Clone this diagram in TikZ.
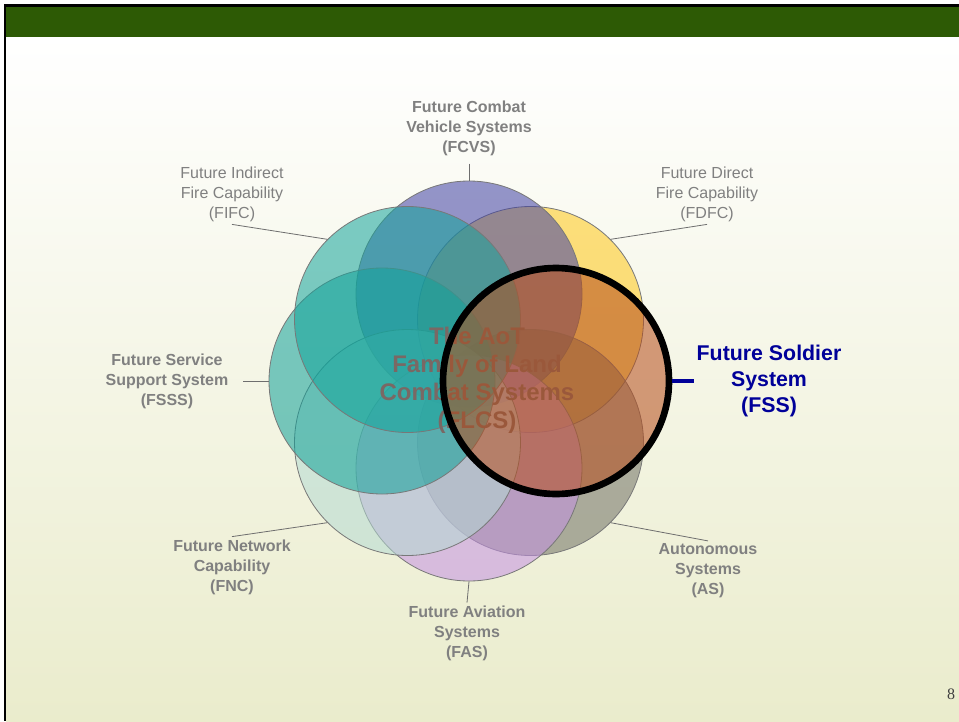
\documentclass[tikz,border=0pt]{standalone}
\usepackage{fontspec}
\setmainfont{Liberation Sans}
\newfontfamily\numfont{Liberation Serif}

\definecolor{barGreen}{RGB}{45,90,5}
\definecolor{bgCream}{RGB}{234,236,204}
\definecolor{lblGray}{RGB}{128,128,128}
\definecolor{lnGray}{RGB}{110,110,110}
\definecolor{bubEdge}{RGB}{120,120,120}
\definecolor{fssBlue}{RGB}{0,0,153}
\definecolor{coreText}{RGB}{122,104,100}
\definecolor{cFCVS}{RGB}{64,64,164}
\definecolor{cFIFC}{RGB}{19,164,155}
\definecolor{cFDFC}{RGB}{255,199,24}
\definecolor{cFSSS}{RGB}{15,160,152}
\definecolor{cFSS}{RGB}{182,76,26}
\definecolor{cAS}{RGB}{112,112,100}
\definecolor{cFAS}{RGB}{196,145,226}
\definecolor{cFNC}{RGB}{180,218,210}

\tikzset{
    bub/.style={circle, minimum size=169.5pt, inner sep=0pt, draw=bubEdge, line width=0.6pt, fill opacity=0.55},
    lbl/.style={text=lblGray, align=center, inner sep=2pt, font=\fontsize{12}{15}\selectfont\bfseries},
    lbllight/.style={lbl, font=\fontsize{12}{15}\selectfont},
    lnk/.style={draw=lnGray, line width=0.6pt}
}

\begin{document}
\begin{tikzpicture}[x=0.75pt, y=-0.75pt]

    \useasboundingbox (0,0) rectangle (959,721);

    % slide
    \fill[white] (0,0) rectangle (959,721);
    \shade[top color=white, bottom color=bgCream] (6,37) rectangle (959,721);
    \fill[barGreen] (6,7) rectangle (959,37);
    \fill[black] (4,4) rectangle (959,7);
    \fill[black] (4,4) rectangle (6,721);

    % circles
    \node[bub, fill=cFDFC] (fdfc) at (530.5,319.5) {};
    \node[bub, fill=cFCVS] (fcvs) at (469,294) {};
    \node[bub, fill=cAS] (as) at (530.5,442.5) {};
    \node[bub, fill=cFAS] (fas) at (469,468) {};
    \node[bub, fill=cFNC] (fnc) at (407.5,442.5) {};
    \node[bub, fill=cFSSS] (fsss) at (382,381) {};
    \node[bub, fill=cFIFC] (fifc) at (407.5,319.5) {};

    \node[text=coreText, align=center, font=\fontsize{18}{21}\selectfont\bfseries] (core) at (477,380)
        {The AoT\\Family of Land\\Combat Systems\\(FLCS)};

    \node[bub, fill=cFSS, draw=black, line width=5pt] (fss) at (556,381) {};

    % labels
    \node[lbl] (fcvslbl) at (469,128) {Future Combat\\Vehicle Systems\\(FCVS)};
    \node[lbllight] (fifclbl) at (232,194) {Future Indirect\\Fire Capability\\(FIFC)};
    \node[lbllight] (fdfclbl) at (707,194) {Future Direct\\Fire Capability\\(FDFC)};
    \node[lbl] (fssslbl) at (167,381) {Future Service\\Support System\\(FSSS)};
    \node[lbl, text=fssBlue, font=\fontsize{16}{19.5}\selectfont\bfseries] (fsslbl) at (769,381)
        {Future Soldier\\System\\(FSS)};
    \node[lbl] (fnclbl) at (232,567) {Future Network\\Capability\\(FNC)};
    \node[lbl] (faslbl) at (467,633) {Future Aviation\\Systems\\(FAS)};
    \node[lbl] (aslbl) at (708,571) {Autonomous\\Systems\\(AS)};

    % leaders
    \draw[lnk, shorten <=4pt] (fcvslbl.south) -- (fcvs.north);
    \draw[lnk] (fifclbl.south) -- (fifc.135);
    \draw[lnk] (fdfclbl.south) -- (fdfc.45);
    \draw[lnk, shorten <=9pt] (fssslbl.east) -- (fsss.west);
    \draw[lnk] (fnclbl.north) -- (fnc.225);
    \draw[lnk] (fas.south) -- (faslbl.north);
    \draw[lnk] (aslbl.north) -- (as.-45);
    \draw[fssBlue, line width=3.5pt] (fss.east) -- (fsslbl.west);

    \node[font=\numfont\fontsize{12}{14}\selectfont, text=black!75] (pgnum) at (951,694) {8};

\end{tikzpicture}
\end{document}
